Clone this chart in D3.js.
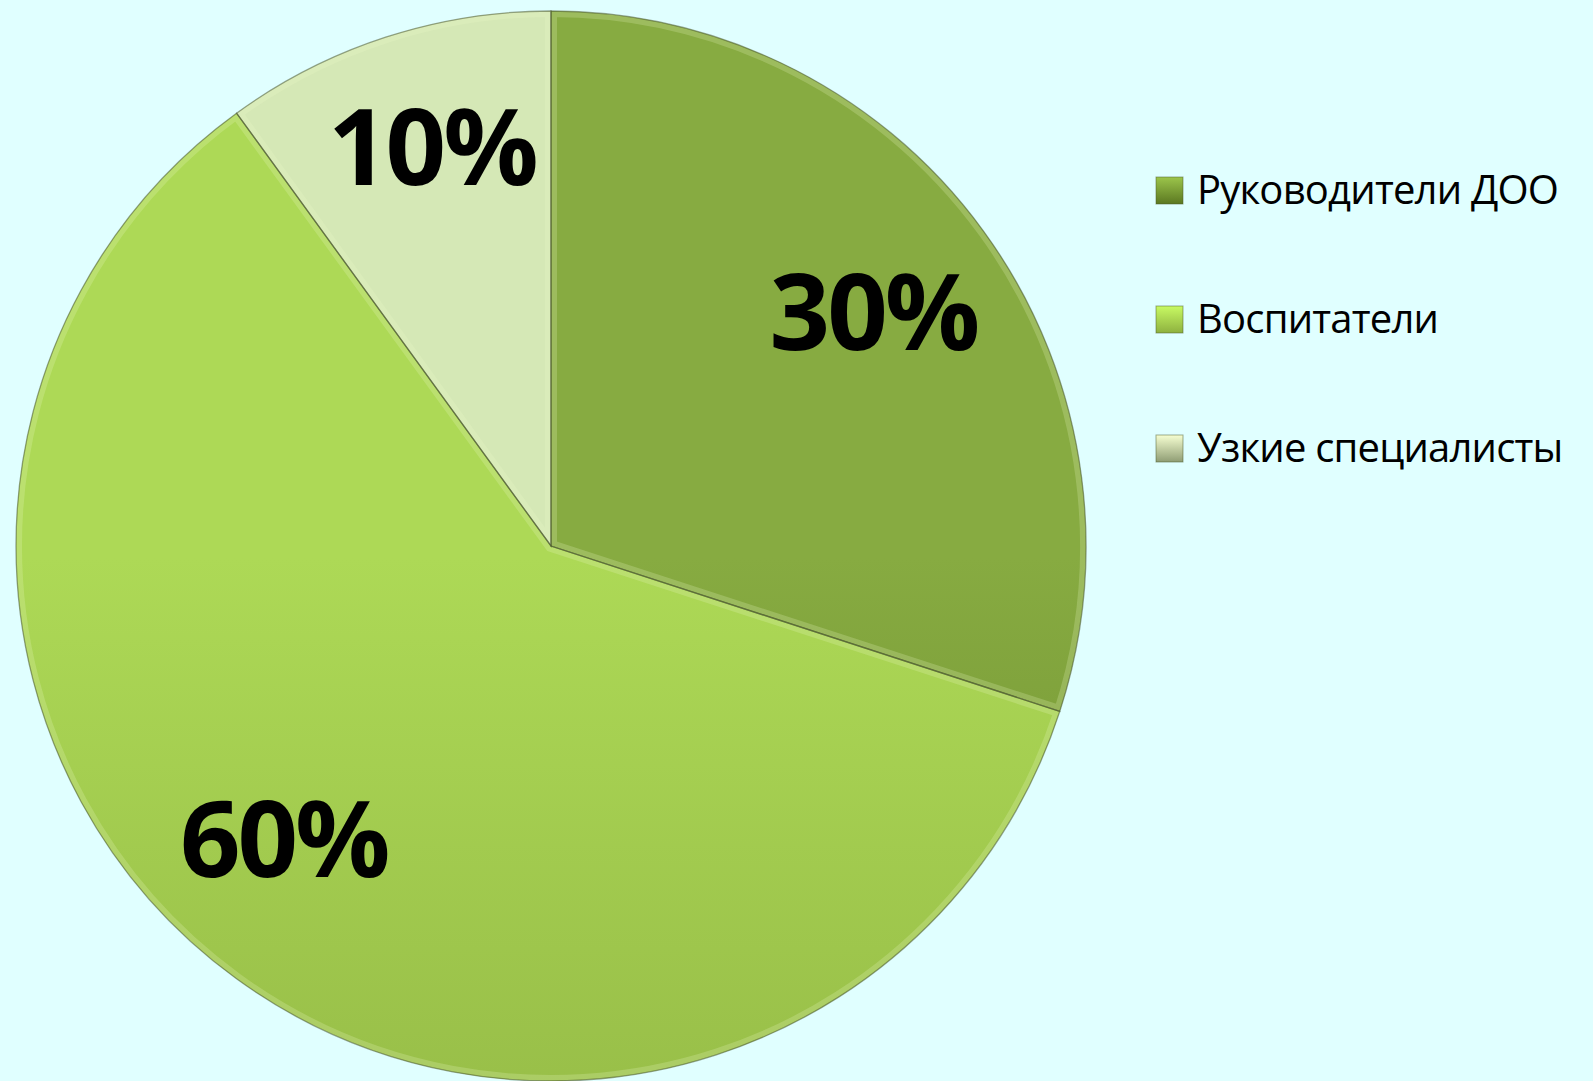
<!DOCTYPE html>
<html>
<head>
<meta charset="utf-8">
<script src="https://cdn.jsdelivr.net/npm/d3@7"></script>
<style>
  html, body { margin: 0; padding: 0; background: #E0FFFF; }
  svg { display: block; }
</style>
</head>
<body>
<div id="chart"></div>
<script>
// data
const categories = ["Руководители ДОО", "Воспитатели", "Узкие специалисты"];
const values = [30, 60, 10];
const labels = ["30%", "60%", "10%"];
const topColors = ["#87AB41", "#ADD956", "#D5E8B6"];
const bottomColors = ["#55701F", "#84A53B", "#85926C"];

// label nudges (like Office "best fit")
const labelNudge = [[0, 0], [-33, -30], [4, -20]];

const width = 1593, height = 1081;
const cx = 551, cy = 546, r = 535;

const svg = d3.select("#chart")
    .append("svg")
    .attr("width", width)
    .attr("height", height);

svg.append("rect")
    .attr("width", width)
    .attr("height", height)
    .attr("fill", "#E0FFFF");

const defs = svg.append("defs");
categories.forEach((c, i) => {
    const g = defs.append("linearGradient")
        .attr("id", "grad" + i)
        .attr("gradientUnits", "userSpaceOnUse")
        .attr("x1", 0).attr("y1", cy - r)
        .attr("x2", 0).attr("y2", cy + r);
    g.append("stop").attr("offset", "0%").attr("stop-color", topColors[i]);
    g.append("stop").attr("offset", "100%").attr("stop-color", bottomColors[i]);

    // legend swatch gradient
    const lg = defs.append("linearGradient")
        .attr("id", "lgrad" + i)
        .attr("x1", 0).attr("y1", 0).attr("x2", 0).attr("y2", 1);
    lg.append("stop").attr("offset", "0%").attr("stop-color", d3.color(topColors[i]).brighter(0.4));
    lg.append("stop").attr("offset", "100%").attr("stop-color", d3.color(bottomColors[i]).brighter(0.2));
});

const pie = d3.pie().sort(null).value(d => d);
const arcs = pie(values);

const arc = d3.arc().innerRadius(0).outerRadius(r);
const labelArc = d3.arc().innerRadius(r * 0.745).outerRadius(r * 0.745);

const g = svg.append("g").attr("transform", `translate(${cx},${cy})`);

arcs.forEach((a, i) => {
    defs.append("clipPath").attr("id", "clip" + i)
        .append("path").attr("d", arc(a));
});

g.selectAll("path.slice")
    .data(arcs)
    .join("path")
    .attr("class", "slice")
    .attr("d", arc)
    .attr("fill", (d, i) => `url(#grad${i})`);

// bevel highlight
g.selectAll("path.bevel")
    .data(arcs)
    .join("path")
    .attr("class", "bevel")
    .attr("d", arc)
    .attr("fill", "none")
    .attr("stroke", "#eefcc8")
    .attr("stroke-opacity", 0.22)
    .attr("stroke-width", 12)
    .attr("clip-path", (d, i) => `url(#clip${i})`);

// edge line
g.selectAll("path.edge")
    .data(arcs)
    .join("path")
    .attr("class", "edge")
    .attr("d", arc)
    .attr("fill", "none")
    .attr("stroke", "#3d4a22")
    .attr("stroke-opacity", 0.5)
    .attr("stroke-width", 1.3);

g.selectAll("text.pct")
    .data(arcs)
    .join("text")
    .attr("class", "pct")
    .attr("x", (d, i) => labelArc.centroid(d)[0] + labelNudge[i][0])
    .attr("y", (d, i) => labelArc.centroid(d)[1] + labelNudge[i][1])
    .attr("text-anchor", "middle")
    .attr("dy", "0.36em")
    .attr("font-family", "'Open Sans', sans-serif")
    .attr("font-weight", "bold")
    .attr("font-size", 106)
    .attr("letter-spacing", -3)
    .attr("fill", "#000")
    .text((d, i) => labels[i]);

// legend
const legendY = d3.scalePoint().domain(categories).range([190, 448]);
const legend = svg.append("g");
const item = legend.selectAll("g")
    .data(categories)
    .join("g")
    .attr("transform", d => `translate(1156,${legendY(d)})`);

item.append("rect")
    .attr("x", 0).attr("y", -13)
    .attr("width", 27).attr("height", 27)
    .attr("fill", (d, i) => `url(#lgrad${i})`)
    .attr("stroke", "#4a5a2a")
    .attr("stroke-opacity", 0.5)
    .attr("stroke-width", 1);

item.append("text")
    .attr("x", 41)
    .attr("y", 0)
    .attr("dy", "0.36em")
    .attr("font-family", "'Open Sans', sans-serif")
    .attr("font-size", 40)
    .attr("letter-spacing", -0.8)
    .attr("fill", "#000")
    .text(d => d);
</script>
</body>
</html>
